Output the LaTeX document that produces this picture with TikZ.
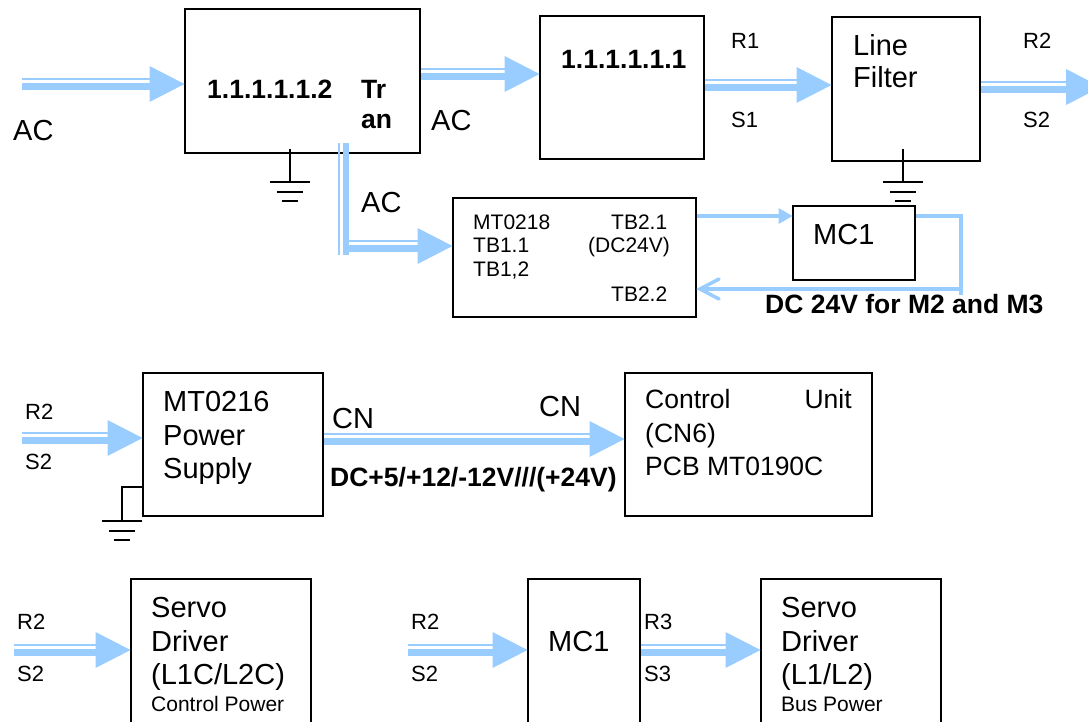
\documentclass[tikz,border=0pt]{standalone}
\usepackage{fontspec}
\setmainfont{Liberation Sans}
\usetikzlibrary{arrows.meta,calc}
\definecolor{wire}{RGB}{153,204,255}
\tikzset{
  box/.style={draw=black,line width=2pt,fill=white,anchor=north west,inner sep=0pt},
  gnd/.style={draw=black,line width=2pt},
  big/.style={font=\fontsize{29}{33.5}\selectfont,anchor=west,inner sep=0pt,align=left},
  mid/.style={font=\fontsize{22}{26}\selectfont,anchor=west,inner sep=0pt,align=left},
  sml/.style={font=\fontsize{21}{23.5}\selectfont,anchor=west,inner sep=0pt,align=left},
  bld/.style={font=\fontsize{26.5}{30}\bfseries\selectfont,anchor=west,inner sep=0pt,align=left},
  bldb/.style={font=\fontsize{26.5}{30}\bfseries\selectfont,anchor=west,inner sep=0pt},
  wirethin/.style={draw=wire,line width=2.5pt},
  wirethick/.style={draw=wire,line width=7pt},
  wirepl/.style={draw=wire,line width=3.5pt},
}
\newcommand{\dblarrow}[2]{%
  \draw[wirethin,shorten >=30pt] ($(#1)+(0,-5)$) -- ($(#2)+(0,-5)$);
  \draw[wirethick,shorten >=30pt] ($(#1)+(0,2.5)$) -- ($(#2)+(0,2.5)$);
  \fill[wire] ($(#2)+(-34,-18)$) -- ($(#2)+(1,0)$) -- ($(#2)+(-34,18)$) -- cycle;
}
\newcommand{\gndbars}[1]{%
  \draw[gnd] ($(#1)+(-20,0)$) -- ($(#1)+(20,0)$);
  \draw[gnd] ($(#1)+(-13,10)$) -- ($(#1)+(13,10)$);
  \draw[gnd] ($(#1)+(-8,19)$) -- ($(#1)+(8,19)$);
}
\begin{document}
\begin{tikzpicture}[x=1pt,y=-1pt]
\useasboundingbox (0,0) rectangle (1088,721);
\clip (0,0) rectangle (1088,721);
% boxes
\node[box,minimum width=235pt,minimum height=144pt] (tran) at (183.5,7.5) {};
\node[box,minimum width=164pt,minimum height=143pt] (rect) at (538.5,14.5) {};
\node[box,minimum width=148pt,minimum height=144pt] (filt) at (830.5,15.5) {};
\node[box,minimum width=243pt,minimum height=119pt] (psu) at (451.5,196.5) {};
\node[box,minimum width=122pt,minimum height=74pt] (mca) at (791.5,204.5) {};
\node[box,minimum width=180pt,minimum height=143pt] (mts) at (141.5,371.5) {};
\node[box,minimum width=247pt,minimum height=143pt] (ctl) at (623.5,371.5) {};
\node[box,minimum width=180pt,minimum height=170pt] (sva) at (129.5,577.5) {};
\node[box,minimum width=112pt,minimum height=170pt] (mcb) at (526.5,577.5) {};
\node[box,minimum width=180pt,minimum height=170pt] (svb) at (759.5,577.5) {};
% coordinates
\coordinate (a1s) at (22,84);
\coordinate (a1e) at (tran.west |- a1s);
\coordinate (a2s) at (tran.east |- 0,74);
\coordinate (a2e) at (rect.west |- a2s);
\coordinate (a3s) at (rect.east |- 0,85);
\coordinate (a3e) at (filt.west |- a3s);
\coordinate (a4s) at (filt.east |- 0,87);
\coordinate (a4e) at (1100,87);
\coordinate (a5s) at (22,438);
\coordinate (a5e) at (mts.west |- a5s);
\coordinate (a6s) at (mts.east |- 0,439);
\coordinate (a6e) at (ctl.west |- a6s);
\coordinate (a7s) at (14,650);
\coordinate (a7e) at (sva.west |- a7s);
\coordinate (a8s) at (408,650);
\coordinate (a8e) at (mcb.west |- a8s);
\coordinate (a9s) at (mcb.east |- a8s);
\coordinate (a9e) at (svb.west |- a8s);
% double arrows
\dblarrow{a1s}{a1e}
\dblarrow{a2s}{a2e}
\dblarrow{a3s}{a3e}
\dblarrow{a4s}{a4e}
\dblarrow{a5s}{a5e}
\dblarrow{a6s}{a6e}
\dblarrow{a7s}{a7e}
\dblarrow{a8s}{a8e}
\dblarrow{a9s}{a9e}
% branch from transformer to MT0218
\coordinate (b1) at (339,143);
\coordinate (b2) at (345.5,143);
\coordinate (b3) at (339,255);
\coordinate (b4) at (345.5,255);
\coordinate (b5s) at (345,246);
\coordinate (b5e) at (psu.west |- b5s);
\draw[wirethin] (b1) -- (b3);
\draw[draw=wire,line width=6pt] (b2) -- (b4);
\draw[wirethin] ($(b5s)+(0,-5)$) -- ($(b5e)+(-30,-5)$);
\draw[wirethick] ($(b5s)+(0,2.5)$) -- ($(b5e)+(-30,2.5)$);
\fill[wire] ($(b5e)+(-34,-18)$) -- ($(b5e)+(1,0)$) -- ($(b5e)+(-34,18)$) -- cycle;
% DC wires
\coordinate (c1) at (psu.east |- 0,216);
\coordinate (c2) at (mca.west |- c1);
\draw[wirepl] (c1) -- ($(c2)+(-10,0)$);
\fill[wire] ($(c2)+(-13,-8)$) -- ($(c2)+(1,0)$) -- ($(c2)+(-13,8)$) -- cycle;
\coordinate (d1) at (mca.east |- c1);
\coordinate (d2) at (961,216);
\coordinate (d3) at (961,295);
\coordinate (d4) at (961,289);
\coordinate (d5) at (700,289);
\draw[wirepl] (d1) -- (d2) -- (d3);
\draw[wirepl,line width=3.5pt] (d4) -- (d5);
\draw[wirepl,line cap=round] (719,279) -- (d5) -- (719,299);
% grounds
\coordinate (g1) at (290,182);
\draw[gnd] (290,149) -- (g1);
\gndbars{g1}
\coordinate (g2) at (903,182);
\draw[gnd] (903,149) -- (g2);
\gndbars{g2}
\coordinate (g3) at (122,521);
\draw[gnd,line width=1.6pt] (mts.west |- 0,487) -- (122,487) -- (g3);
\gndbars{g3}
% texts
\node[big] (t1) at (13,131) {AC};
\node[bldb] (t2) at (207,89) {1.1.1.1.1.2};
\node[bld] (t3) at (361,105) {Tr\\an};
\node[big] (t4) at (431,121) {AC};
\node[big] (t5) at (361,203) {AC};
\node[bldb] (t6) at (561,59) {1.1.1.1.1.1};
\node[mid] (t7) at (731,41) {R1};
\node[mid] (t8) at (731,120) {S1};
\node[big,font=\fontsize{29}{32.5}\selectfont] (t9) at (853,61) {Line\\Filter};
\node[mid] (t10) at (1023,41) {R2};
\node[mid] (t11) at (1023,120) {S2};
\node[sml] (t12) at (473,247) {MT0218\\TB1.1\\TB1,2};
\node[sml] (t13) at (611,222) {TB2.1};
\node[sml] (t14) at (588,247) {(DC24V)};
\node[sml] (t15) at (611,294) {TB2.2};
\node[big] (t16) at (813,235) {MC1};
\node[bldb] (t17) at (765,304) {DC 24V for M2 and M3};
\node[mid] (t18) at (25,412) {R2};
\node[mid] (t19) at (25,462) {S2};
\node[big] (t20) at (163,438) {MT0216\\Power\\Supply};
\node[big] (t21) at (332,419) {CN};
\node[big] (t22) at (539,407) {CN};
\node[bldb] (t23) at (330,480) {DC+5/+12/-12V///(+24V)};
\node[big,font=\fontsize{26.5}{33.5}\selectfont] (t24) at (645,433) {Control\hspace{74pt}Unit\\(CN6)\\PCB MT0190C};
\node[mid] (t25) at (17,622) {R2};
\node[mid] (t26) at (17,674) {S2};
\node[big] (t27) at (151,644) {Servo\\Driver\\(L1C/L2C)};
\node[sml] (t28) at (151,704) {Control Power};
\node[mid] (t29) at (411,622) {R2};
\node[mid] (t30) at (411,674) {S2};
\node[big] (t31) at (548,642) {MC1};
\node[mid] (t32) at (644,622) {R3};
\node[mid] (t33) at (644,674) {S3};
\node[big] (t34) at (781,644) {Servo\\Driver\\(L1/L2)};
\node[sml] (t35) at (781,704) {Bus Power};
\end{tikzpicture}
\end{document}
